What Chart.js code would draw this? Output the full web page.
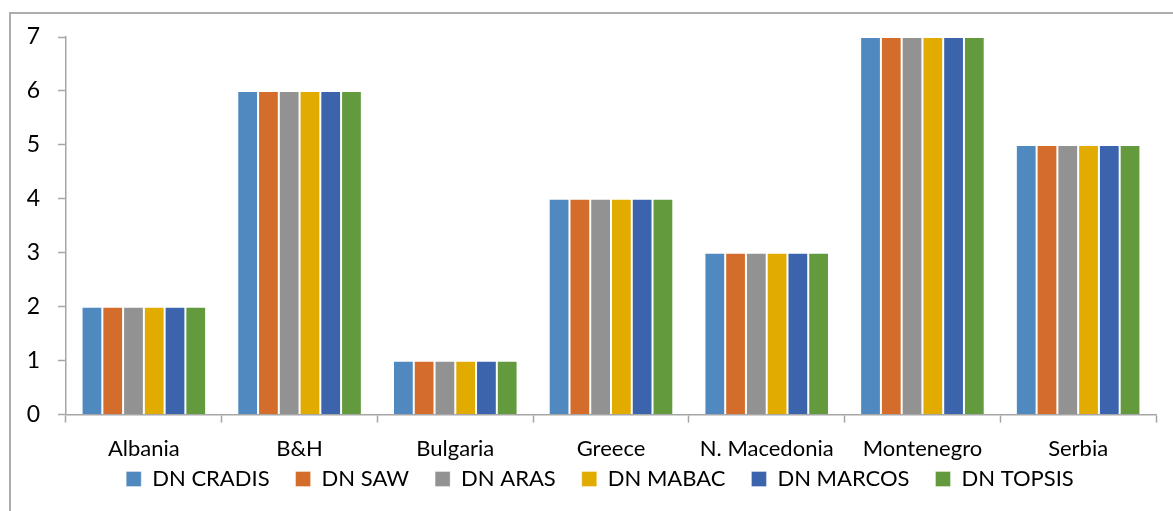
<!DOCTYPE html>
<html>
<head>
<meta charset="utf-8">
<script src="https://cdn.jsdelivr.net/npm/chart.js@4/dist/chart.umd.min.js"></script>
<style>
  html, body { margin: 0; padding: 0; background: #fff; overflow: hidden; }
  #wrap { position: relative; width: 1173px; height: 511px; overflow: hidden; }
  #frame { position: absolute; left: 9px; top: 12px; width: 1300px; height: 700px;
           border-left: 2px solid #adadad; border-top: 2px solid #adadad; }
  canvas { position: absolute; left: 0; top: 0; }
</style>
</head>
<body>
<div id="wrap">
  <div id="frame"></div>
  <canvas id="chart" width="1173" height="533"></canvas>
</div>
<script>
// Country rankings by each DN method
const categories = ['Albania', 'B&H', 'Bulgaria', 'Greece', 'N. Macedonia', 'Montenegro', 'Serbia'];
const cradis = [2, 6, 1, 4, 3, 7, 5];
const saw    = [2, 6, 1, 4, 3, 7, 5];
const aras   = [2, 6, 1, 4, 3, 7, 5];
const mabac  = [2, 6, 1, 4, 3, 7, 5];
const marcos = [2, 6, 1, 4, 3, 7, 5];
const topsis = [2, 6, 1, 4, 3, 7, 5];
const seriesNames = ['DN CRADIS', 'DN SAW', 'DN ARAS', 'DN MABAC', 'DN MARCOS', 'DN TOPSIS'];
const yTicks = [0, 1, 2, 3, 4, 5, 6, 7];

const colors = ['#5089c0', '#d46d2c', '#929292', '#e2ab00', '#3c64ac', '#629a3d'];
const seriesData = [cradis, saw, aras, mabac, marcos, topsis];

const axisGray = '#a6a6a6';
const FONT = 'Lato, "Liberation Sans", sans-serif';

// Nudge the legend row so it sits snugly under the category labels
const legendOffset = {
  id: 'legendOffset',
  afterLayout(chart) {
    const lg = chart.legend;
    if (!lg) return;
    const dx = 13.5, dy = -33;
    lg.left += dx; lg.right += dx;
    lg.top += dy; lg.bottom += dy;
  }
};

new Chart(document.getElementById('chart'), {
  type: 'bar',
  data: {
    labels: categories,
    datasets: seriesData.map((d, i) => ({
      label: seriesNames[i],
      data: d,
      backgroundColor: colors[i],
      borderColor: 'rgba(255,255,255,0.35)',
      borderWidth: 1,
      barPercentage: 1.0,
      categoryPercentage: 0.8
    }))
  },
  plugins: [legendOffset],
  options: {
    responsive: false,
    animation: false,
    layout: { padding: { left: 17, right: 17, top: 37, bottom: 0 } },
    plugins: {
      tooltip: { enabled: false },
      legend: {
        position: 'bottom',
        labels: {
          boxWidth: 15,
          boxHeight: 15,
          padding: 26,
          color: '#000',
          font: { family: FONT, size: 22 }
        }
      }
    },
    scales: {
      x: {
        grid: { display: true, drawOnChartArea: false, offset: true, color: axisGray, tickLength: 8, tickWidth: 1.5 },
        border: { display: true, color: axisGray, width: 1.5 },
        ticks: { color: '#000', font: { family: FONT, size: 22 }, padding: 13, maxRotation: 0, autoSkip: false }
      },
      y: {
        min: 0,
        max: 7,
        afterBuildTicks: (s) => { s.ticks = yTicks.map(v => ({ value: v })); },
        grid: { display: true, drawOnChartArea: false, color: axisGray, tickLength: 8, tickWidth: 1.5 },
        border: { display: true, color: axisGray, width: 1.5 },
        ticks: { color: '#000', font: { family: FONT, size: 23 }, padding: 18 },
        afterFit: (s) => { s.width = 49; }
      }
    }
  }
});
</script>
</body>
</html>
